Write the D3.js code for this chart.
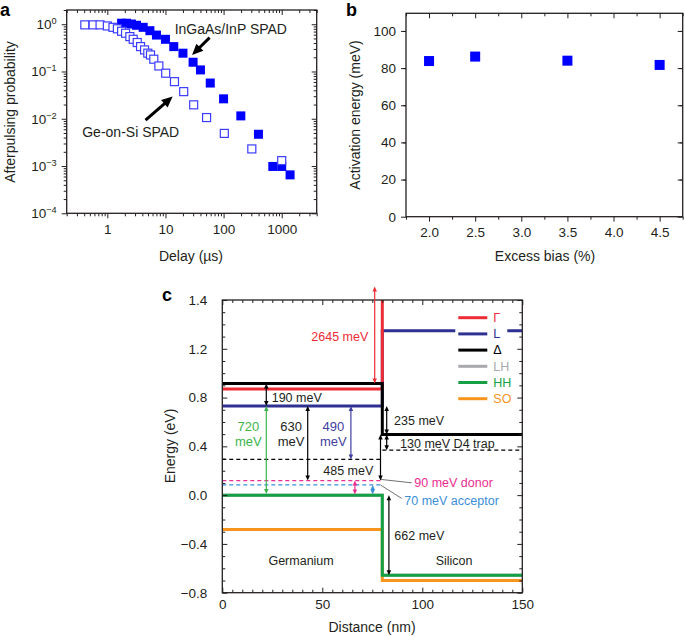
<!DOCTYPE html>
<html>
<head>
<meta charset="utf-8">
<script src="https://cdn.jsdelivr.net/npm/d3@7"></script>
<style>
body { margin: 0; background: #fff; }
svg { font-family: "Liberation Sans", Arial, sans-serif; }
</style>
</head>
<body>
<svg id="fig" width="685" height="636"></svg>
<script>
// ---- panel a: afterpulsing vs delay ----
const geDelay = [0.41, 0.57, 0.75, 1.0, 1.25, 1.49, 1.76, 2.06, 2.44, 2.79, 3.27, 3.73, 4.37, 4.97, 5.53, 6.3, 7.7, 10.1, 14.3, 20.6, 30.6, 51, 103, 306, 1000];
const geProb = [0.97, 0.97, 0.97, 0.92, 0.86, 0.80, 0.71, 0.645, 0.547, 0.48, 0.41, 0.336, 0.286, 0.244, 0.224, 0.182, 0.131, 0.092, 0.061, 0.0375, 0.0197, 0.0106, 0.0049, 0.0023, 0.0013];
const inDelay = [1.76, 2.14, 2.6, 3.18, 4.14, 5.4, 7.0, 10, 13.9, 20, 29.9, 40, 59, 100, 198, 398, 703, 1000, 1393];
const inProb = [1.05, 1.05, 1.01, 0.95, 0.86, 0.73, 0.59, 0.48, 0.336, 0.244, 0.157, 0.108, 0.057, 0.0264, 0.0115, 0.0047, 0.00098, 0.00098, 0.00065];
const delayTicks = [1, 10, 100, 1000];
const probTicks = [1e-4, 1e-3, 1e-2, 1e-1, 1];

// ---- panel b: activation energy ----
const biasPct = [2.0, 2.5, 3.5, 4.5];
const actEnergy = [83.8, 86.2, 84.0, 81.7];
const biasTicks = [2.0, 2.5, 3.0, 3.5, 4.0, 4.5];
const energyTicksB = [0, 20, 40, 60, 80, 100];

// ---- panel c: band diagram (distance nm, energy eV) ----
const bandX = [0, 80, 80, 150];
const gammaE = [0.87, 0.87, 3.5, 3.5];
const lE = [0.73, 0.73, 1.347, 1.347];
const deltaE = [0.915, 0.915, 0.498, 0.498];
const lhE = [0, 0, -0.656, -0.656];
const hhE = [0, 0, -0.656, -0.656];
const soE = [-0.281, -0.281, -0.70, -0.70];
const bandNames = ['Γ', 'L', 'Δ', 'LH', 'HH', 'SO'];
const bandColors = ['#ec2d35', '#2e3192', '#000000', '#a7a9ac', '#16a045', '#f7941d'];
const levelNames = ['Ge trap', 'D4 trap', 'donor', 'acceptor'];
const levelX0 = [0, 80, 0, 0];
const levelX1 = [80, 150, 80, 80];
const levelE = [0.293, 0.369, 0.119, 0.084];
const levelColors = ['#000000', '#000000', '#ec2d8f', '#3a8fd8'];
const distTicks = [0, 50, 100, 150];
const energyTicksC = [-0.8, -0.4, 0, 0.4, 0.8, 1.2, 1.6];
const energyLabelsC = ['−0.8', '−0.4', '0.0', '0.4', '0.8', '1.2', '1.4'];

const ink = '#231f20';
const svg = d3.select('#fig');

// axes box with ticks on all four sides
function frame(g, xs, ys, w, h, o) {
    const L = 5, m = 3;
    const s = o.outward ? 1 : -1;
    const bx = g.append('g').attr('transform', `translate(0,${h})`)
        .call(d3.axisBottom(xs).tickValues(o.xMajor).tickSize(s * L).tickPadding(o.xPad).tickFormat(o.xFmt));
    g.append('g').attr('transform', `translate(0,${h})`)
        .call(d3.axisBottom(xs).tickValues(o.xMinor).tickSize(s * m).tickFormat(''));
    g.append('g').call(d3.axisBottom(xs).tickValues(o.xMajor).tickSize(L).tickFormat(''));
    g.append('g').call(d3.axisBottom(xs).tickValues(o.xMinor).tickSize(m).tickFormat(''));
    const ly = g.append('g')
        .call(d3.axisLeft(ys).tickValues(o.yMajor).tickSize(s * L).tickPadding(o.yPad).tickFormat(o.yFmt));
    g.append('g').call(d3.axisLeft(ys).tickValues(o.yMinor).tickSize(s * m).tickFormat(''));
    g.append('g').attr('transform', `translate(${w},0)`)
        .call(d3.axisLeft(ys).tickValues(o.yMajor).tickSize(L).tickFormat(''));
    g.append('g').attr('transform', `translate(${w},0)`)
        .call(d3.axisLeft(ys).tickValues(o.yMinor).tickSize(m).tickFormat(''));
    g.selectAll('.domain').remove();
    g.selectAll('.tick line').attr('stroke', ink).attr('stroke-width', 1);
    g.selectAll('.tick text').attr('font-size', 13.5).attr('fill', ink)
        .attr('font-family', '"Liberation Sans", Arial, sans-serif');
    g.append('rect').attr('width', w).attr('height', h)
        .attr('fill', 'none').attr('stroke', ink).attr('stroke-width', 1.3);
    return { bx, ly };
}

function logMinor(lo, hi) {
    const out = [];
    for (let d = 1e-5; d <= 1e4; d *= 10)
        for (let k = 2; k <= 9; k++) {
            const v = d * k;
            if (v >= lo && v <= hi) out.push(v);
        }
    return out;
}

function linMinor(lo, hi, step) {
    return d3.range(Math.round(lo / step), Math.round(hi / step) + 1).map(i => +(i * step).toFixed(4));
}

// straight arrow with filled heads (pixel coords)
function arrow(g, x1, y1, x2, y2, color, lw, hl, hw, both) {
    const ang = Math.atan2(y2 - y1, x2 - x1);
    const head = (x, y, a) => {
        const bx = x - hl * Math.cos(a), by = y - hl * Math.sin(a);
        const px = -Math.sin(a) * hw / 2, py = Math.cos(a) * hw / 2;
        g.append('path').attr('d', `M${x},${y}L${bx + px},${by + py}L${bx - px},${by - py}Z`).attr('fill', color);
    };
    const sx = both ? x1 + hl * 0.8 * Math.cos(ang) : x1, sy = both ? y1 + hl * 0.8 * Math.sin(ang) : y1;
    g.append('line').attr('x1', sx).attr('y1', sy)
        .attr('x2', x2 - hl * 0.8 * Math.cos(ang)).attr('y2', y2 - hl * 0.8 * Math.sin(ang))
        .attr('stroke', color).attr('stroke-width', lw);
    head(x2, y2, ang);
    if (both) head(x1, y1, ang + Math.PI);
}

function label(g, x, y, txt, o = {}) {
    return g.append('text').attr('x', x).attr('y', y).attr('dy', '0.35em')
        .attr('text-anchor', o.anchor || 'start').attr('font-size', o.size || 12.5)
        .attr('fill', o.color || ink).attr('transform', o.rotate ? `rotate(-90,${x},${y})` : null)
        .text(txt);
}

// ================= panel a =================
{
    const w = 250, h = 203.3;
    const g = svg.append('g').attr('transform', 'translate(66.7,10)');
    const x = d3.scaleLog().domain([0.2, 4000]).range([0, w]);
    const y = d3.scaleLog().domain([1e-4, 2]).range([h, 0]);
    const ax = frame(g, x, y, w, h, {
        outward: true, xMajor: delayTicks, xMinor: logMinor(0.2, 4000), xPad: 6, xFmt: d3.format('d'),
        yMajor: probTicks, yMinor: logMinor(1e-4, 2), yPad: 5, yFmt: d => d
    });
    ax.ly.selectAll('.tick text').each(function (d) {
        const t = d3.select(this).text('');
        const e = Math.round(Math.log10(d));
        t.append('tspan').text('10');
        t.append('tspan').attr('dy', '-0.55em').attr('font-size', '0.68em').text(e < 0 ? '−' + (-e) : e);
    });

    const sq = 9;
    g.selectAll('.in-pt').data(inDelay).join('rect').attr('class', 'in-pt')
        .attr('x', (d, i) => x(d) - sq / 2).attr('y', (d, i) => y(inProb[i]) - sq / 2)
        .attr('width', sq).attr('height', sq).attr('fill', '#0000ff');
    const so = 8;
    g.selectAll('.ge-pt').data(geDelay).join('rect').attr('class', 'ge-pt')
        .attr('x', (d, i) => x(d) - so / 2).attr('y', (d, i) => y(geProb[i]) - so / 2)
        .attr('width', so).attr('height', so).attr('fill', '#fff')
        .attr('stroke', '#3c3cff').attr('stroke-width', 1.2);

    label(g, x(14.4), y(0.78), 'InGaAs/InP SPAD', { size: 14 });
    label(g, x(0.37), y(0.0051), 'Ge-on-Si SPAD', { size: 14 });
    arrow(g, x(57.5), y(0.52), x(28.7), y(0.224), '#000', 3, 11, 10, false);
    arrow(g, x(4.54), y(0.0094), x(13.3), y(0.0295), '#000', 3, 11, 10, false);

    label(svg, 10, 112, 'Afterpulsing probability', { anchor: 'middle', size: 14, rotate: true });
    label(svg, 191, 256, 'Delay (µs)', { anchor: 'middle', size: 14 });
    svg.append('text').attr('x', 0).attr('y', 16).attr('font-size', 18).attr('font-weight', 'bold').text('a');
}

// ================= panel b =================
{
    const w = 276.7, h = 203.4;
    const g = svg.append('g').attr('transform', 'translate(406,13.3)');
    const x = d3.scaleLinear().domain([1.75, 4.75]).range([0, w]);
    const y = d3.scaleLinear().domain([0, 109.5]).range([h, 0]);
    frame(g, x, y, w, h, {
        outward: true, xMajor: biasTicks, xMinor: linMinor(1.75, 4.75, 0.25).filter(v => !biasTicks.includes(v)),
        xPad: 6, xFmt: d3.format('.1f'),
        yMajor: energyTicksB, yMinor: linMinor(10, 100, 20), yPad: 5, yFmt: d3.format('d')
    });
    const sq = 10;
    g.selectAll('.b-pt').data(biasPct).join('rect').attr('class', 'b-pt')
        .attr('x', d => x(d) - sq / 2).attr('y', (d, i) => y(actEnergy[i]) - sq / 2)
        .attr('width', sq).attr('height', sq).attr('fill', '#0000ff');

    label(svg, 355, 115, 'Activation energy (meV)', { anchor: 'middle', size: 14, rotate: true });
    label(svg, 545, 256, 'Excess bias (%)', { anchor: 'middle', size: 14 });
    svg.append('text').attr('x', 346).attr('y', 16).attr('font-size', 18).attr('font-weight', 'bold').text('b');
}

// ================= panel c =================
{
    const w = 300, h = 292.7;
    const g = svg.append('g').attr('transform', 'translate(222.3,300)');
    const x = d3.scaleLinear().domain([0, 150]).range([0, w]);
    const y = d3.scaleLinear().domain([-0.8, 1.6]).range([h, 0]);

    svg.append('defs').append('clipPath').attr('id', 'clipc')
        .append('rect').attr('width', w).attr('height', h);
    const plot = g.append('g').attr('clip-path', 'url(#clipc)');

    // dashed impurity / trap levels
    levelE.forEach((e, i) => {
        plot.append('line').attr('x1', x(levelX0[i])).attr('x2', x(levelX1[i]))
            .attr('y1', y(e)).attr('y2', y(e))
            .attr('stroke', levelColors[i]).attr('stroke-width', 1.4).attr('stroke-dasharray', '4,3');
    });

    // bands
    const bands = [gammaE, lE, deltaE, lhE, hhE, soE];
    const line = d3.line().x((d, i) => x(bandX[i])).y(d => y(d));
    [3, 5, 4, 1, 0, 2].forEach(k => {
        plot.append('path').attr('d', line(bands[k])).attr('fill', 'none')
            .attr('stroke', bandColors[k]).attr('stroke-width', 3);
    });

    // legend (white box hides the band behind it)
    const lg = g.append('g').attr('transform', 'translate(233,8)');
    lg.append('rect').attr('x', 0).attr('y', 0).attr('width', 52).attr('height', 98).attr('fill', '#fff');
    bandNames.forEach((nm, i) => {
        const yy = 9.7 + i * 16.2;
        lg.append('line').attr('x1', 3).attr('x2', 32).attr('y1', yy).attr('y2', yy)
            .attr('stroke', bandColors[i]).attr('stroke-width', 3);
        label(lg, 38, yy, nm, { color: bandColors[i] });
    });

    frame(g, x, y, w, h, {
        outward: false, xMajor: distTicks, xMinor: linMinor(0, 150, 5).filter(v => !distTicks.includes(v)),
        xPad: 7, xFmt: d3.format('d'),
        yMajor: energyTicksC, yMinor: linMinor(-0.8, 1.6, 0.1).filter(v => !energyTicksC.some(t => Math.abs(t - v) < 1e-6)),
        yPad: 15, yFmt: (d, i) => energyLabelsC[i]
    });

    // energy arrows
    const A = (xn, e1, e2, c) => arrow(g, x(xn), y(e1), x(xn), y(e2), c, 1.2, 5, 4.5, true);
    A(76.2, 0.915, 1.71, '#ec2d35');
    A(22, 0.915, 0.73, '#000');
    A(22, 0.73, 0.01, '#3cb44b');
    A(42.7, 0.73, 0.119, '#000');
    A(64.3, 0.73, 0.293, '#3f3f9f');
    A(79.1, 0.498, 0.119, '#000');
    A(66.3, 0.119, 0.005, '#ec2d8f');
    A(75.2, 0.084, 0.005, '#3a8fd8');
    A(82.2, 0.73, 0.498, '#000');
    A(82.2, 0.498, 0.369, '#000');
    A(83.3, 0.0, -0.656, '#000');

    // leader lines to donor / acceptor labels
    g.append('line').attr('x1', x(79.2)).attr('y1', y(0.129)).attr('x2', x(94.7)).attr('y2', y(0.101))
        .attr('stroke', '#333').attr('stroke-width', 0.7);
    g.append('line').attr('x1', x(79.2)).attr('y1', y(0.082)).attr('x2', x(89.7)).attr('y2', y(-0.027))
        .attr('stroke', '#333').attr('stroke-width', 0.7);

    label(g, x(73), y(1.298), '2645 meV', { anchor: 'end', color: '#ec2d35' });
    label(g, x(24.7), y(0.798), '190 meV');
    label(g, x(13), y(0.56), '720', { anchor: 'middle', color: '#3cb44b', size: 13 });
    label(g, x(13), y(0.437), 'meV', { anchor: 'middle', color: '#3cb44b', size: 13 });
    label(g, x(34.4), y(0.56), '630', { anchor: 'middle', size: 13 });
    label(g, x(34.4), y(0.437), 'meV', { anchor: 'middle', size: 13 });
    label(g, x(55.5), y(0.56), '490', { anchor: 'middle', color: '#3f3f9f', size: 13 });
    label(g, x(55.5), y(0.437), 'meV', { anchor: 'middle', color: '#3f3f9f', size: 13 });
    label(g, x(63), y(0.205), '485 meV', { anchor: 'middle' });
    label(g, x(85.9), y(0.615), '235 meV');
    label(g, x(88.9), y(0.424), '130 meV D4 trap');
    label(g, x(96), y(0.101), '90 meV donor', { color: '#ec2d8f' });
    label(g, x(91), y(-0.047), '70 meV acceptor', { color: '#3a8fd8' });
    label(g, x(86), y(-0.328), '662 meV');
    label(g, x(39.4), y(-0.533), 'Germanium', { anchor: 'middle' });
    label(g, x(115.9), y(-0.533), 'Silicon', { anchor: 'middle' });

    label(svg, 170, 446, 'Energy (eV)', { anchor: 'middle', size: 14, rotate: true });
    label(svg, 372, 627, 'Distance (nm)', { anchor: 'middle', size: 14 });
    svg.append('text').attr('x', 162).attr('y', 301).attr('font-size', 18).attr('font-weight', 'bold').text('c');
}
</script>
</body>
</html>
